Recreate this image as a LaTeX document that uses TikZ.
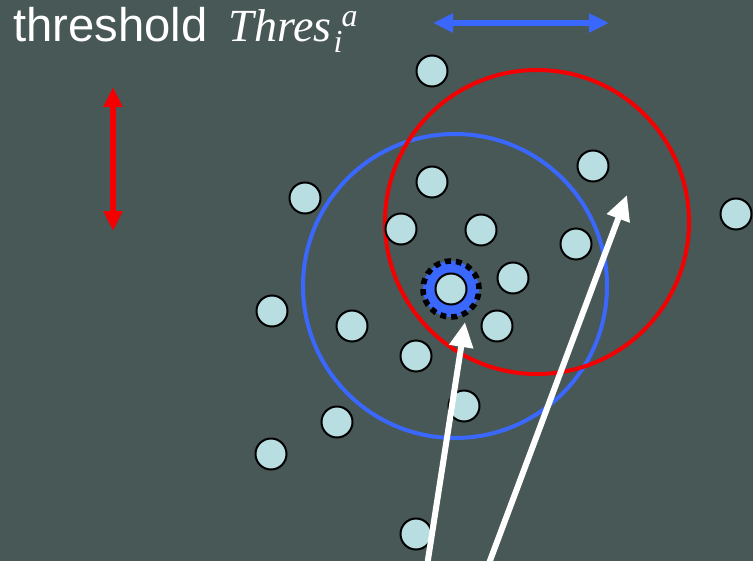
\documentclass[tikz,border=0pt]{standalone}
\usepackage{fontspec}
\setmainfont{Liberation Sans}
\newfontfamily\tmsfont{Liberation Serif}
\usetikzlibrary{arrows.meta}
\definecolor{boardbg}{RGB}{72,88,86}
\definecolor{dotfill}{RGB}{185,222,225}
\definecolor{rngblue}{RGB}{58,104,255}
\definecolor{rngred}{RGB}{245,0,0}

\begin{document}
\begin{tikzpicture}[
  x=0.5pt, y=-0.5pt,
  sensor/.style={circle, draw, fill=dotfill, line width=1pt, inner sep=0pt,
              minimum size=15.5pt},
  rangering/.style={circle, draw, line width=2pt, inner sep=0pt, minimum size=152pt},
  hoparrow/.style={-{Triangle[length=12.5pt, width=11.5pt]}, white, line width=3pt},
  spanarrow/.style={{Triangle[length=10pt, width=9pt]}-{Triangle[length=10pt, width=9pt]},
               line width=3pt},
]
  % background
  \fill[boardbg] (0,0) rectangle (753,561);
  \useasboundingbox (0,0) rectangle (753,561);

  % label
  \node[anchor=base west, inner sep=0pt, text=white] (lbl) at (13,42)
    {\fontsize{23.6}{26}\selectfont threshold\hspace{10.5pt}%
     {\tmsfont\itshape\fontsize{23}{26}\selectfont Thres\hspace{1pt}%
      \rlap{\raisebox{-5.5pt}{\fontsize{16}{16}\selectfont i}}%
      \hspace{4pt}\raisebox{7.5pt}{\fontsize{16}{16}\selectfont a}}};

  % ranges
  \node[rangering, draw=rngblue] (blue) at (455,286) {};
  \node[rangering, draw=rngred]  (red)  at (537,222) {};

  % scale arrows
  \coordinate (bl) at (433,23);
  \coordinate (br) at (609,23);
  \draw[spanarrow, rngblue] (bl) -- (br);
  \coordinate (rt) at (113,87);
  \coordinate (rb) at (113,231);
  \draw[spanarrow, rngred] (rt) -- (rb);

  % source node
  \coordinate (src) at (451,289);
  \draw[rngblue, line width=6.5pt] (src) circle[radius=10.75pt];
  \draw[black, line width=2.8pt, dash pattern=on 3pt off 2.5pt] (src) circle[radius=14pt];
  \node[sensor] (n0) at (src) {};

  % other nodes
  \node[sensor] (n1)  at (432,71)  {};
  \node[sensor] (n2)  at (305,198) {};
  \node[sensor] (n3)  at (432,182) {};
  \node[sensor] (n4)  at (593,166) {};
  \node[sensor] (n5)  at (736,214) {};
  \node[sensor] (n6)  at (401,229) {};
  \node[sensor] (n7)  at (481,230) {};
  \node[sensor] (n8)  at (576,244) {};
  \node[sensor] (n9)  at (513,278) {};
  \node[sensor] (n10) at (272,311) {};
  \node[sensor] (n11) at (352,326) {};
  \node[sensor] (n12) at (497,326) {};
  \node[sensor] (n13) at (416,356) {};
  \node[sensor] (n14) at (464,406) {};
  \node[sensor] (n15) at (337,422) {};
  \node[sensor] (n16) at (271,454) {};
  \node[sensor] (n17) at (416,534) {};

  % hops
  \coordinate (s1) at (427,566);
  \coordinate (t1) at (465,322);
  \coordinate (s2) at (488,566);
  \coordinate (t2) at (627,195);
  \draw[hoparrow] (s1) -- (t1);
  \draw[hoparrow] (s2) -- (t2);
\end{tikzpicture}
\end{document}
